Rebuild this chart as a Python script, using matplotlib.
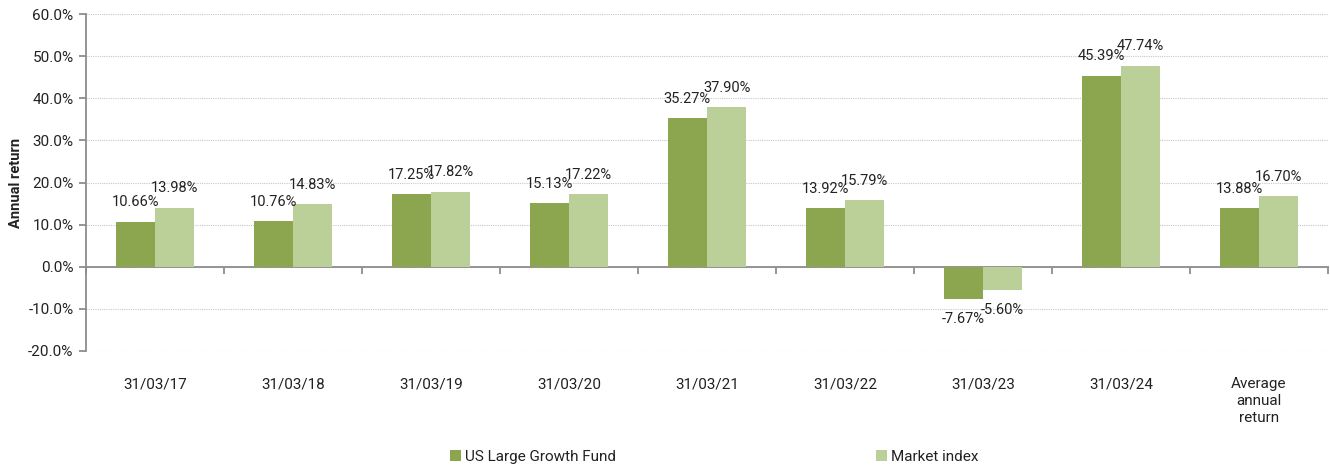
import numpy as np
import matplotlib.pyplot as plt

plt.rcParams['font.family'] = ['Roboto', 'DejaVu Sans']

categories = ['31/03/17', '31/03/18', '31/03/19', '31/03/20', '31/03/21',
              '31/03/22', '31/03/23', '31/03/24', 'Average\nannual\nreturn']
fund = [10.66, 10.76, 17.25, 15.13, 35.27, 13.92, -7.67, 45.39, 13.88]
market = [13.98, 14.83, 17.82, 17.22, 37.90, 15.79, -5.60, 47.74, 16.70]
series_names = ['US Large Growth Fund', 'Market index']

c_fund = '#8ba64f'
c_market = '#bbd098'
txt = '#222222'
axc = '#8c8c8c'

fig = plt.figure(figsize=(13.3, 4.68), dpi=100)
ax = fig.add_axes([86 / 1330, 1 - 351 / 468, (1328 - 86) / 1330, (351 - 14) / 468])

x = np.arange(len(categories))
w = 0.285
b1 = ax.bar(x - w / 2, fund, w, color=c_fund, label=series_names[0], zorder=3)
b2 = ax.bar(x + w / 2, market, w, color=c_market, label=series_names[1], zorder=3)

# value labels above (or below) each bar
for bars, vals in ((b1, fund), (b2, market)):
    for rect, v in zip(bars, vals):
        xc = rect.get_x() + rect.get_width() / 2
        off = 9 if v >= 0 else -9
        ax.annotate(f'{v:.2f}%', xy=(xc, v), xytext=(0, off), textcoords='offset points',
                    ha='center', va='bottom' if v >= 0 else 'top', fontsize=10.5, color=txt,
                    zorder=4)

ax.set_xlim(-0.5, len(categories) - 0.5)
ax.set_ylim(-20, 60)
ax.set_yticks(np.arange(-20, 61, 10))
ax.set_yticklabels([f'{t:.1f}%' for t in np.arange(-20, 61, 10)], fontsize=11, color=txt)
ax.yaxis.grid(True, linestyle=(0, (1, 1)), color='#c8c8c8', linewidth=0.8, zorder=0)
ax.set_axisbelow(True)

for s in ('top', 'right'):
    ax.spines[s].set_visible(False)
ax.spines['left'].set_color(axc)
ax.spines['left'].set_linewidth(1.3)
ax.spines['bottom'].set_position(('data', 0))
ax.spines['bottom'].set_color(axc)
ax.spines['bottom'].set_linewidth(1.3)
ax.tick_params(axis='y', length=5, color=axc, width=1.3, pad=4)
ax.set_xticks(np.arange(-0.5, len(categories), 1.0))
ax.set_xticklabels([])
ax.tick_params(axis='x', length=5, color=axc, width=1.3, direction='out')

# category labels sit below the plot area
for i, lab in enumerate(categories):
    ax.annotate(lab, xy=(i, 0), xycoords=('data', 'axes fraction'), xytext=(0, -19),
                textcoords='offset points', ha='center', va='top', fontsize=11,
                color=txt, linespacing=1.25)

ax.set_ylabel('Annual return', fontsize=10.5, fontweight='bold', color=txt, labelpad=4)

fig.legend(handles=[b1, b2], labels=series_names, loc='center', bbox_to_anchor=(0.537, 1 - 457 / 468),
           ncol=2, frameon=False, fontsize=11, handlelength=0.7, handleheight=0.7,
           handletextpad=0.3, columnspacing=17.0, labelcolor=txt)

fig.savefig('out.png', dpi=100)
